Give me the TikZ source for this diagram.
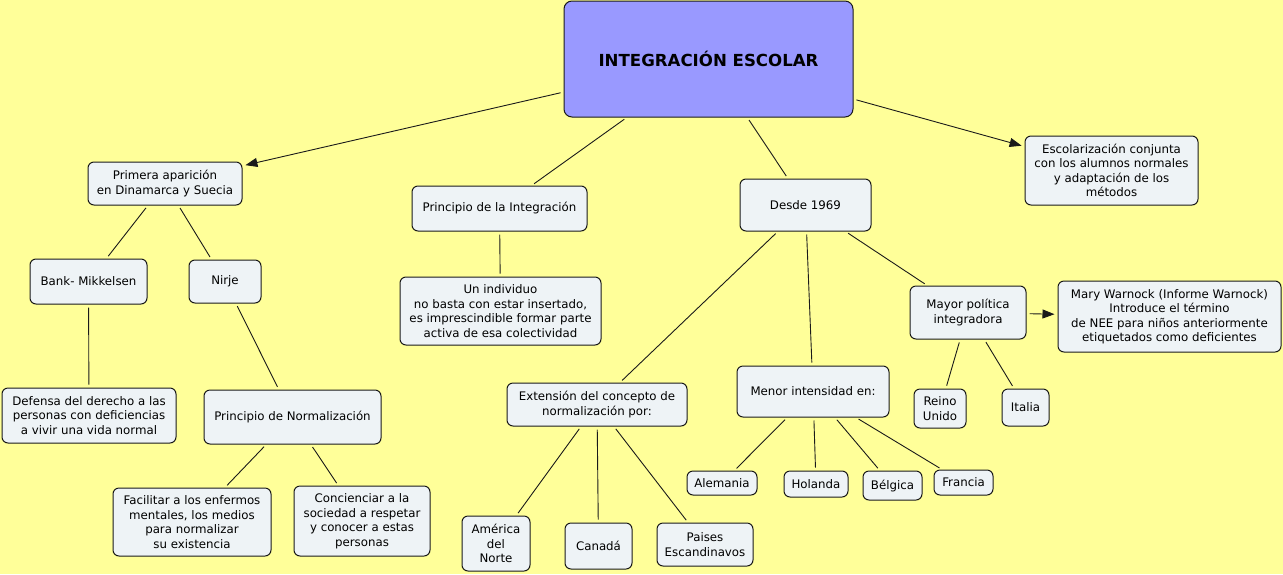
\documentclass[tikz,border=0pt]{standalone}
\usepackage{fontspec}
\setmainfont{DejaVu Sans}
\usetikzlibrary{arrows.meta}
\definecolor{bg}{HTML}{FFFF99}
\definecolor{nodefill}{HTML}{EEF3F6}
\definecolor{mainfill}{HTML}{9999FF}
\definecolor{edge}{HTML}{1A1A1A}
\tikzset{
  concept/.style={draw=edge, line width=1pt, fill=nodefill, rounded corners=6pt,
    align=center, inner sep=0pt, font=\fontsize{11.8}{14.5}\selectfont},
  conn/.style={draw=edge, line width=0.9pt, shorten <=3pt, shorten >=3pt},
  arr/.style={conn, -{Triangle[length=12pt,width=9pt]}},
}
\newcommand{\cnode}[6]{\node[concept, minimum width=#4pt, minimum height=#5pt] (#1) at (#2,#3) {#6};}
\begin{document}
\begin{tikzpicture}[x=1pt,y=-1pt]
\fill[bg] (0,0) rectangle (1283,574);
\useasboundingbox (0,0) rectangle (1283,574);
\node[concept, fill=mainfill, rounded corners=8pt, minimum width=289pt, minimum height=116pt,
  font=\fontsize{16.6}{19}\selectfont\bfseries] (main) at (708.5,59) {INTEGRACIÓN ESCOLAR};
\cnode{primera}{165}{183.5}{154}{43}{Primera aparición\\en Dinamarca y Suecia}
\cnode{pinteg}{499.5}{208.5}{175}{45}{Principio de la Integración}
\cnode{desde}{805.5}{205}{131}{52}{Desde 1969}
\cnode{escol}{1111.5}{170.5}{173}{69}{Escolarización conjunta\\con los alumnos normales\\y adaptación de los\\métodos}
\cnode{bank}{88.5}{281.5}{117}{45}{Bank- Mikkelsen}
\cnode{nirje}{225}{281.5}{72}{43}{Nirje}
\cnode{un}{500.5}{311}{201}{68}{Un individuo\\no basta con estar insertado,\\es imprescindible formar parte\\activa de esa colectividad}
\cnode{mayor}{968}{312.5}{116}{53}{Mayor política\\integradora}
\cnode{mary}{1169.5}{316.5}{223}{71}{Mary Warnock (Informe Warnock)\\Introduce el término\\de NEE para niños anteriormente\\etiquetados como deficientes}
\cnode{defensa}{89}{415.5}{174}{55}{Defensa del derecho a las\\personas con deficiencias\\a vivir una vida normal}
\cnode{pnorm}{292.5}{417}{177}{54}{Principio de Normalización}
\cnode{ext}{597}{404.5}{180}{43}{Extensión del concepto de\\normalización por:}
\cnode{menor}{813}{391.5}{152}{51}{Menor intensidad en:}
\cnode{reino}{940}{408.5}{52}{39}{Reino\\Unido}
\cnode{italia}{1025.5}{407.5}{47}{37}{Italia}
\cnode{alemania}{722}{483}{70}{24}{Alemania}
\cnode{holanda}{816}{484}{64}{26}{Holanda}
\cnode{belgica}{892.5}{485.5}{59}{29}{Bélgica}
\cnode{francia}{963.5}{482.5}{59}{25}{Francia}
\cnode{facilitar}{192}{522}{158}{68}{Facilitar a los enfermos\\mentales, los medios\\para normalizar\\su existencia}
\cnode{concien}{362}{521}{136}{70}{Concienciar a la\\sociedad a respetar\\y conocer a estas\\personas}
\cnode{america}{496}{543.5}{68}{55}{América\\del\\Norte}
\cnode{canada}{598.5}{546}{67}{46}{Canadá}
\cnode{paises}{705}{544.5}{96}{43}{Paises\\Escandinavos}
% connectors
\draw[arr] (main) -- (primera);
\draw[conn] (main) -- (pinteg);
\draw[conn] (main) -- (desde);
\draw[arr] (main) -- (escol);
\draw[conn] (primera) -- (bank);
\draw[conn] (primera) -- (nirje);
\draw[conn] (bank) -- (defensa);
\draw[conn] (nirje) -- (pnorm);
\draw[conn] (pnorm) -- (facilitar);
\draw[conn] (pnorm) -- (concien);
\draw[conn] (pinteg) -- (un);
\draw[conn] (desde) -- (ext);
\draw[conn] (desde) -- (menor);
\draw[conn] (desde) -- (mayor);
\draw[arr] (mayor) -- (mary);
\draw[conn] (mayor) -- (reino);
\draw[conn] (mayor) -- (italia);
\draw[conn] (ext) -- (america);
\draw[conn] (ext) -- (canada);
\draw[conn] (ext) -- (paises);
\draw[conn] (menor) -- (alemania);
\draw[conn] (menor) -- (holanda);
\draw[conn] (menor) -- (belgica);
\draw[conn] (menor) -- (francia);
\end{tikzpicture}
\end{document}
